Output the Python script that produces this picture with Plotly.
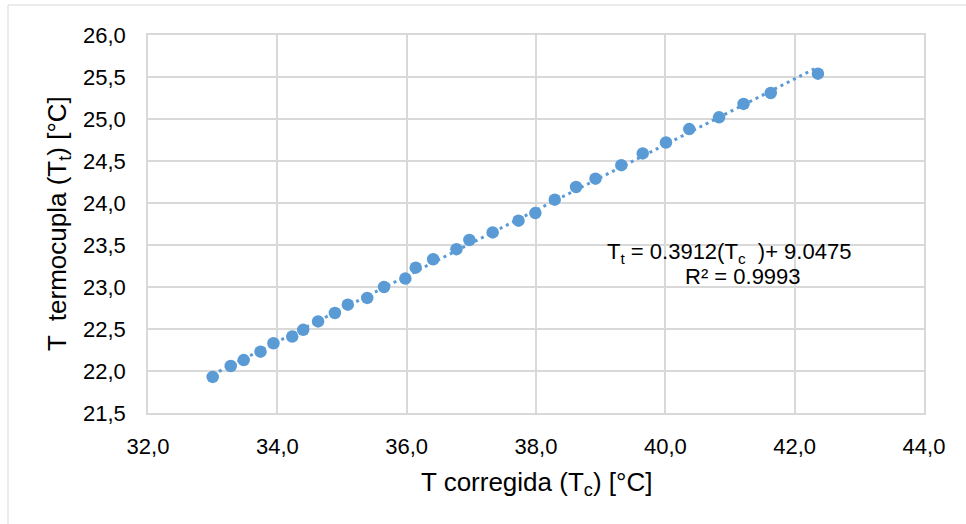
import plotly.graph_objects as go

# Corrected temperature (Tc) vs thermocouple reading (Tt), both in °C
t_corregida = [33.00, 33.28, 33.48, 33.74, 33.94, 34.23, 34.40, 34.63, 34.89, 35.09,
               35.39, 35.65, 35.98, 36.14, 36.41, 36.77, 36.97, 37.33, 37.73, 37.99,
               38.29, 38.62, 38.92, 39.32, 39.65, 40.01, 40.37, 40.83, 41.21, 41.63,
               42.36]
t_termocupla = [21.93, 22.06, 22.13, 22.23, 22.33, 22.41, 22.49, 22.59, 22.69, 22.79,
                22.87, 23.00, 23.10, 23.23, 23.33, 23.45, 23.56, 23.65, 23.79, 23.88,
                24.04, 24.19, 24.29, 24.45, 24.59, 24.72, 24.88, 25.02, 25.18, 25.31,
                25.54]

# Linear trendline coefficients
slope = 0.3912
intercept = 9.0475
r_squared = 0.9993

x_ticks = [32, 34, 36, 38, 40, 42, 44]
y_ticks = [21.5, 22.0, 22.5, 23.0, 23.5, 24.0, 24.5, 25.0, 25.5, 26.0]

BLUE = "#5B9BD5"
GRID = "#D9D9D9"
FONT = "Liberation Sans, Arial, sans-serif"

trend_x = [min(t_corregida), max(t_corregida)]
trend_y = [slope * v + intercept for v in trend_x]

fig = go.Figure()
fig.add_trace(go.Scatter(
    x=trend_x, y=trend_y, mode="lines",
    line=dict(color=BLUE, width=3, dash="3px,4px"),
    hoverinfo="skip", showlegend=False,
))
fig.add_trace(go.Scatter(
    x=t_corregida, y=t_termocupla, mode="markers",
    marker=dict(color=BLUE, size=12.5, line=dict(width=0)),
    showlegend=False,
))

axis_common = dict(
    showgrid=True, gridcolor=GRID, gridwidth=1.5,
    showline=True, linecolor=GRID, linewidth=1.5, mirror=True,
    zeroline=False, ticks="", tickformat=".1f",
    tickfont=dict(family=FONT, size=22, color="#000000"),
)

fig.update_xaxes(range=[32, 44], tickvals=x_ticks, ticklabelstandoff=13, **axis_common)
fig.update_yaxes(range=[21.5, 26], tickvals=y_ticks, ticklabelstandoff=16, **axis_common)

fig.update_layout(
    width=966, height=524,
    margin=dict(l=148, r=42, t=35, b=111, autoexpand=False),
    paper_bgcolor="white", plot_bgcolor="white",
    separators=",.",
    font=dict(family=FONT, color="#000000"),
    shapes=[dict(
        type="rect", xref="paper", yref="paper",
        x0=-0.1804, x1=1.07, y0=-0.32, y1=1.0794,
        line=dict(color=GRID, width=1), layer="below",
    )],
    annotations=[
        dict(text="T corregida (T<sub>c</sub>) [°C]", xref="paper", yref="paper",
             x=0.5, y=0, yshift=-70, xanchor="center", yanchor="middle",
             showarrow=False, font=dict(family=FONT, size=26)),
        dict(text="T  termocupla (T<sub>t</sub>) [°C]", xref="paper", yref="paper",
             x=0, y=0.5, xshift=-90, textangle=-90, xanchor="center", yanchor="middle",
             showarrow=False, font=dict(family=FONT, size=26)),
        dict(text=f"T<sub>t</sub> = {slope}(T<sub>c</sub>\u00a0\u00a0)+ {intercept}",
             xref="x", yref="y", x=40.98, y=23.40, xanchor="center", yanchor="middle",
             showarrow=False, font=dict(family=FONT, size=22)),
        dict(text=f"R² = {r_squared}",
             xref="x", yref="y", x=41.20, y=23.12, xanchor="center", yanchor="middle",
             showarrow=False, font=dict(family=FONT, size=22)),
    ],
)

fig.write_html("out.html")
